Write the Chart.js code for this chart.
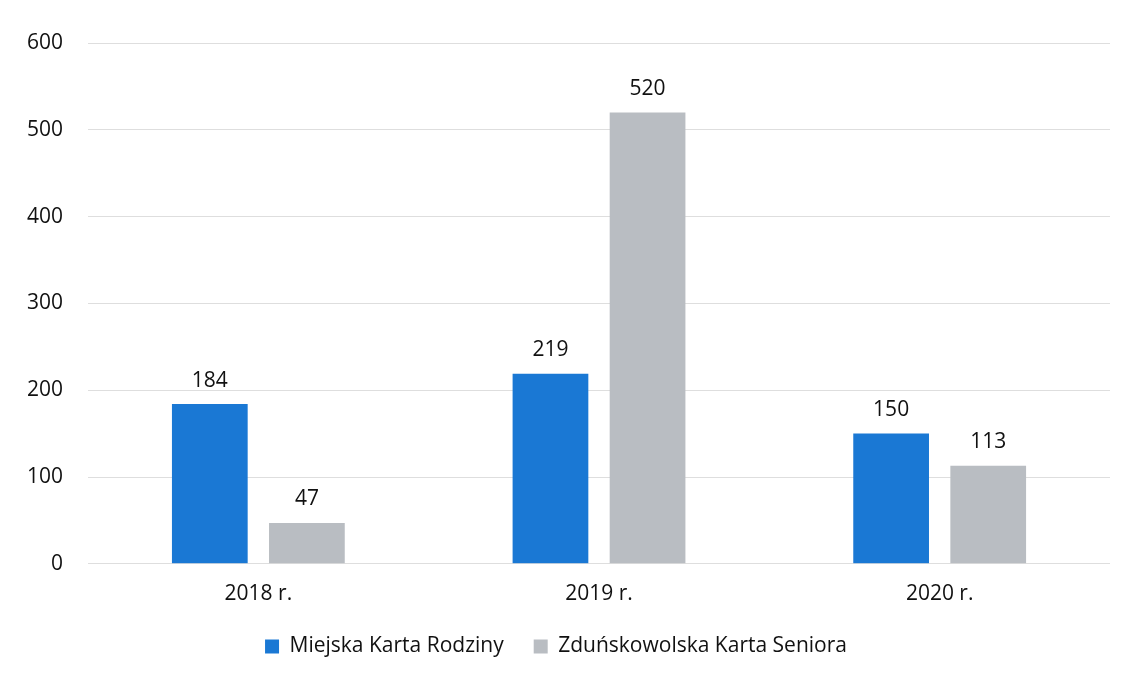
<!DOCTYPE html>
<html>
<head>
<meta charset="utf-8">
<style>
  html, body { margin: 0; padding: 0; background: #fff; }
  #wrap { width: 1125px; height: 675px; }
</style>
<script src="https://cdn.jsdelivr.net/npm/chart.js"></script>
</head>
<body>
<div id="wrap"><canvas id="barChart" width="1125" height="675"></canvas></div>
<script>
  // Dane
  const lata = ['2018 r.', '2019 r.', '2020 r.'];
  const kartaRodziny = [184, 219, 150];
  const kartaSeniora = [47, 520, 113];
  const seriaNazwy = ['Miejska Karta Rodziny', 'Zduńskowolska Karta Seniora'];

  const fontFamily = '"Open Sans", "Noto Sans", sans-serif';
  const legendLift = 11;

  // Etykiety wartości nad słupkami
  const valueLabels = {
    id: 'valueLabels',
    afterDatasetsDraw(chart) {
      const ctx = chart.ctx;
      ctx.save();
      ctx.fillStyle = '#111';
      ctx.font = '21px ' + fontFamily;
      ctx.textAlign = 'center';
      ctx.textBaseline = 'bottom';
      chart.data.datasets.forEach((ds, i) => {
        chart.getDatasetMeta(i).data.forEach((bar, j) => {
          ctx.fillText(ds.data[j], bar.x, bar.y - 13);
        });
      });
      ctx.restore();
    }
  };

  // Legenda bliżej osi X
  const legendShift = {
    id: 'legendShift',
    beforeInit(chart) {
      const fit = chart.legend.fit;
      chart.legend.fit = function () {
        fit.call(this);
        this.height -= legendLift;
      };
    },
    afterLayout(chart) {
      chart.legend.top -= legendLift;
    }
  };

  new Chart(document.getElementById('barChart').getContext('2d'), {
    type: 'bar',
    data: {
      labels: lata,
      datasets: [{
        label: seriaNazwy[0],
        data: kartaRodziny,
        backgroundColor: '#1a78d4',
        barPercentage: 0.78,
        categoryPercentage: 0.57
      }, {
        label: seriaNazwy[1],
        data: kartaSeniora,
        backgroundColor: '#b9bdc2',
        barPercentage: 0.78,
        categoryPercentage: 0.57
      }]
    },
    options: {
      responsive: false,
      animation: false,
      layout: { padding: { left: 2, right: 15, top: 43, bottom: 8 } },
      plugins: {
        legend: {
          position: 'bottom',
          labels: {
            color: '#111',
            font: { family: fontFamily, size: 21 },
            boxWidth: 14,
            boxHeight: 14,
            padding: 30
          }
        },
        tooltip: { enabled: false }
      },
      scales: {
        x: {
          grid: { display: false },
          border: { display: false },
          ticks: { color: '#111', font: { family: fontFamily, size: 21 }, padding: 10 }
        },
        y: {
          min: 0,
          max: 600,
          ticks: { stepSize: 100, color: '#111', font: { family: fontFamily, size: 21 }, padding: 25 },
          grid: { color: '#dedede', drawTicks: false },
          border: { display: false }
        }
      }
    },
    plugins: [valueLabels, legendShift]
  });
</script>
</body>
</html>
